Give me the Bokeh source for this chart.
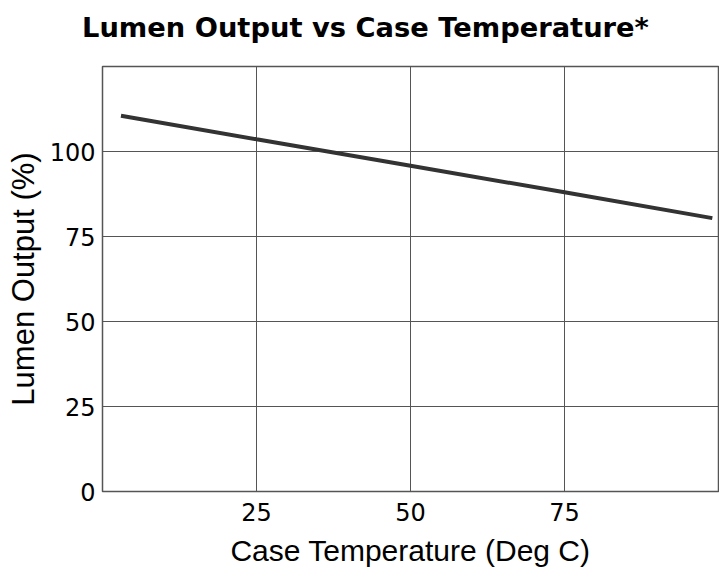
from bokeh.plotting import figure
from bokeh.models import Range1d, FixedTicker, Div
from bokeh.layouts import column
from bokeh.embed import file_html
from bokeh.resources import INLINE

# data
temp_c = [3, 25, 50, 75, 99]
lumen_pct = [110.5, 103.6, 95.8, 88.0, 80.4]
x_ticks = [25, 50, 75]
y_ticks = [0, 25, 50, 75, 100]
y_grid = [25, 50, 75, 100]
title_text = "Lumen Output vs Case Temperature*"

title_div = Div(
    text=('<div style="font-family:\'DejaVu Sans\';font-weight:bold;font-size:27.3px;'
          'line-height:1;padding-top:14px;padding-left:82px;color:#000;white-space:nowrap;">'
          + title_text + '</div>'),
    width=719, height=65, margin=0)

p = figure(width=719, height=505, output_backend="svg", toolbar_location=None,
           x_range=Range1d(0, 100), y_range=Range1d(0, 125),
           min_border_left=102, min_border_right=1, min_border_top=1,
           min_border_bottom=79, margin=0)
p.title.visible = False

p.outline_line_color = "#555555"
p.outline_line_width = 1.5
p.background_fill_color = "white"
p.border_fill_color = "white"

p.xgrid.ticker = FixedTicker(ticks=x_ticks)
p.ygrid.ticker = FixedTicker(ticks=y_grid)
for g in (p.xgrid, p.ygrid):
    g.grid_line_color = "#555555"
    g.grid_line_width = 1
    g.grid_line_alpha = 1

p.xaxis.ticker = FixedTicker(ticks=x_ticks)
p.yaxis.ticker = FixedTicker(ticks=y_ticks)
for ax in (p.xaxis, p.yaxis):
    ax.axis_line_color = None
    ax.major_tick_line_color = None
    ax.minor_tick_line_color = None
    ax.major_label_text_font = "DejaVu Sans"
    ax.major_label_text_font_size = "24px"
    ax.major_label_text_color = "#000000"
    ax.axis_label_text_font = "Liberation Sans"
    ax.axis_label_text_font_style = "normal"
    ax.axis_label_text_color = "#000000"

p.xaxis.axis_label = "Case Temperature (Deg C)"
p.yaxis.axis_label = "Lumen Output (%)"
p.xaxis.axis_label_text_font_size = "30px"
p.yaxis.axis_label_text_font_size = "31px"
p.xaxis.major_label_standoff = 5
p.yaxis.major_label_standoff = 1
p.xaxis.axis_label_standoff = 10
p.yaxis.axis_label_standoff = 6

p.line(temp_c, lumen_pct, line_color="#333333", line_width=4)

layout = column(title_div, p, spacing=0)
open("out.html", "w").write(file_html(layout, INLINE))
